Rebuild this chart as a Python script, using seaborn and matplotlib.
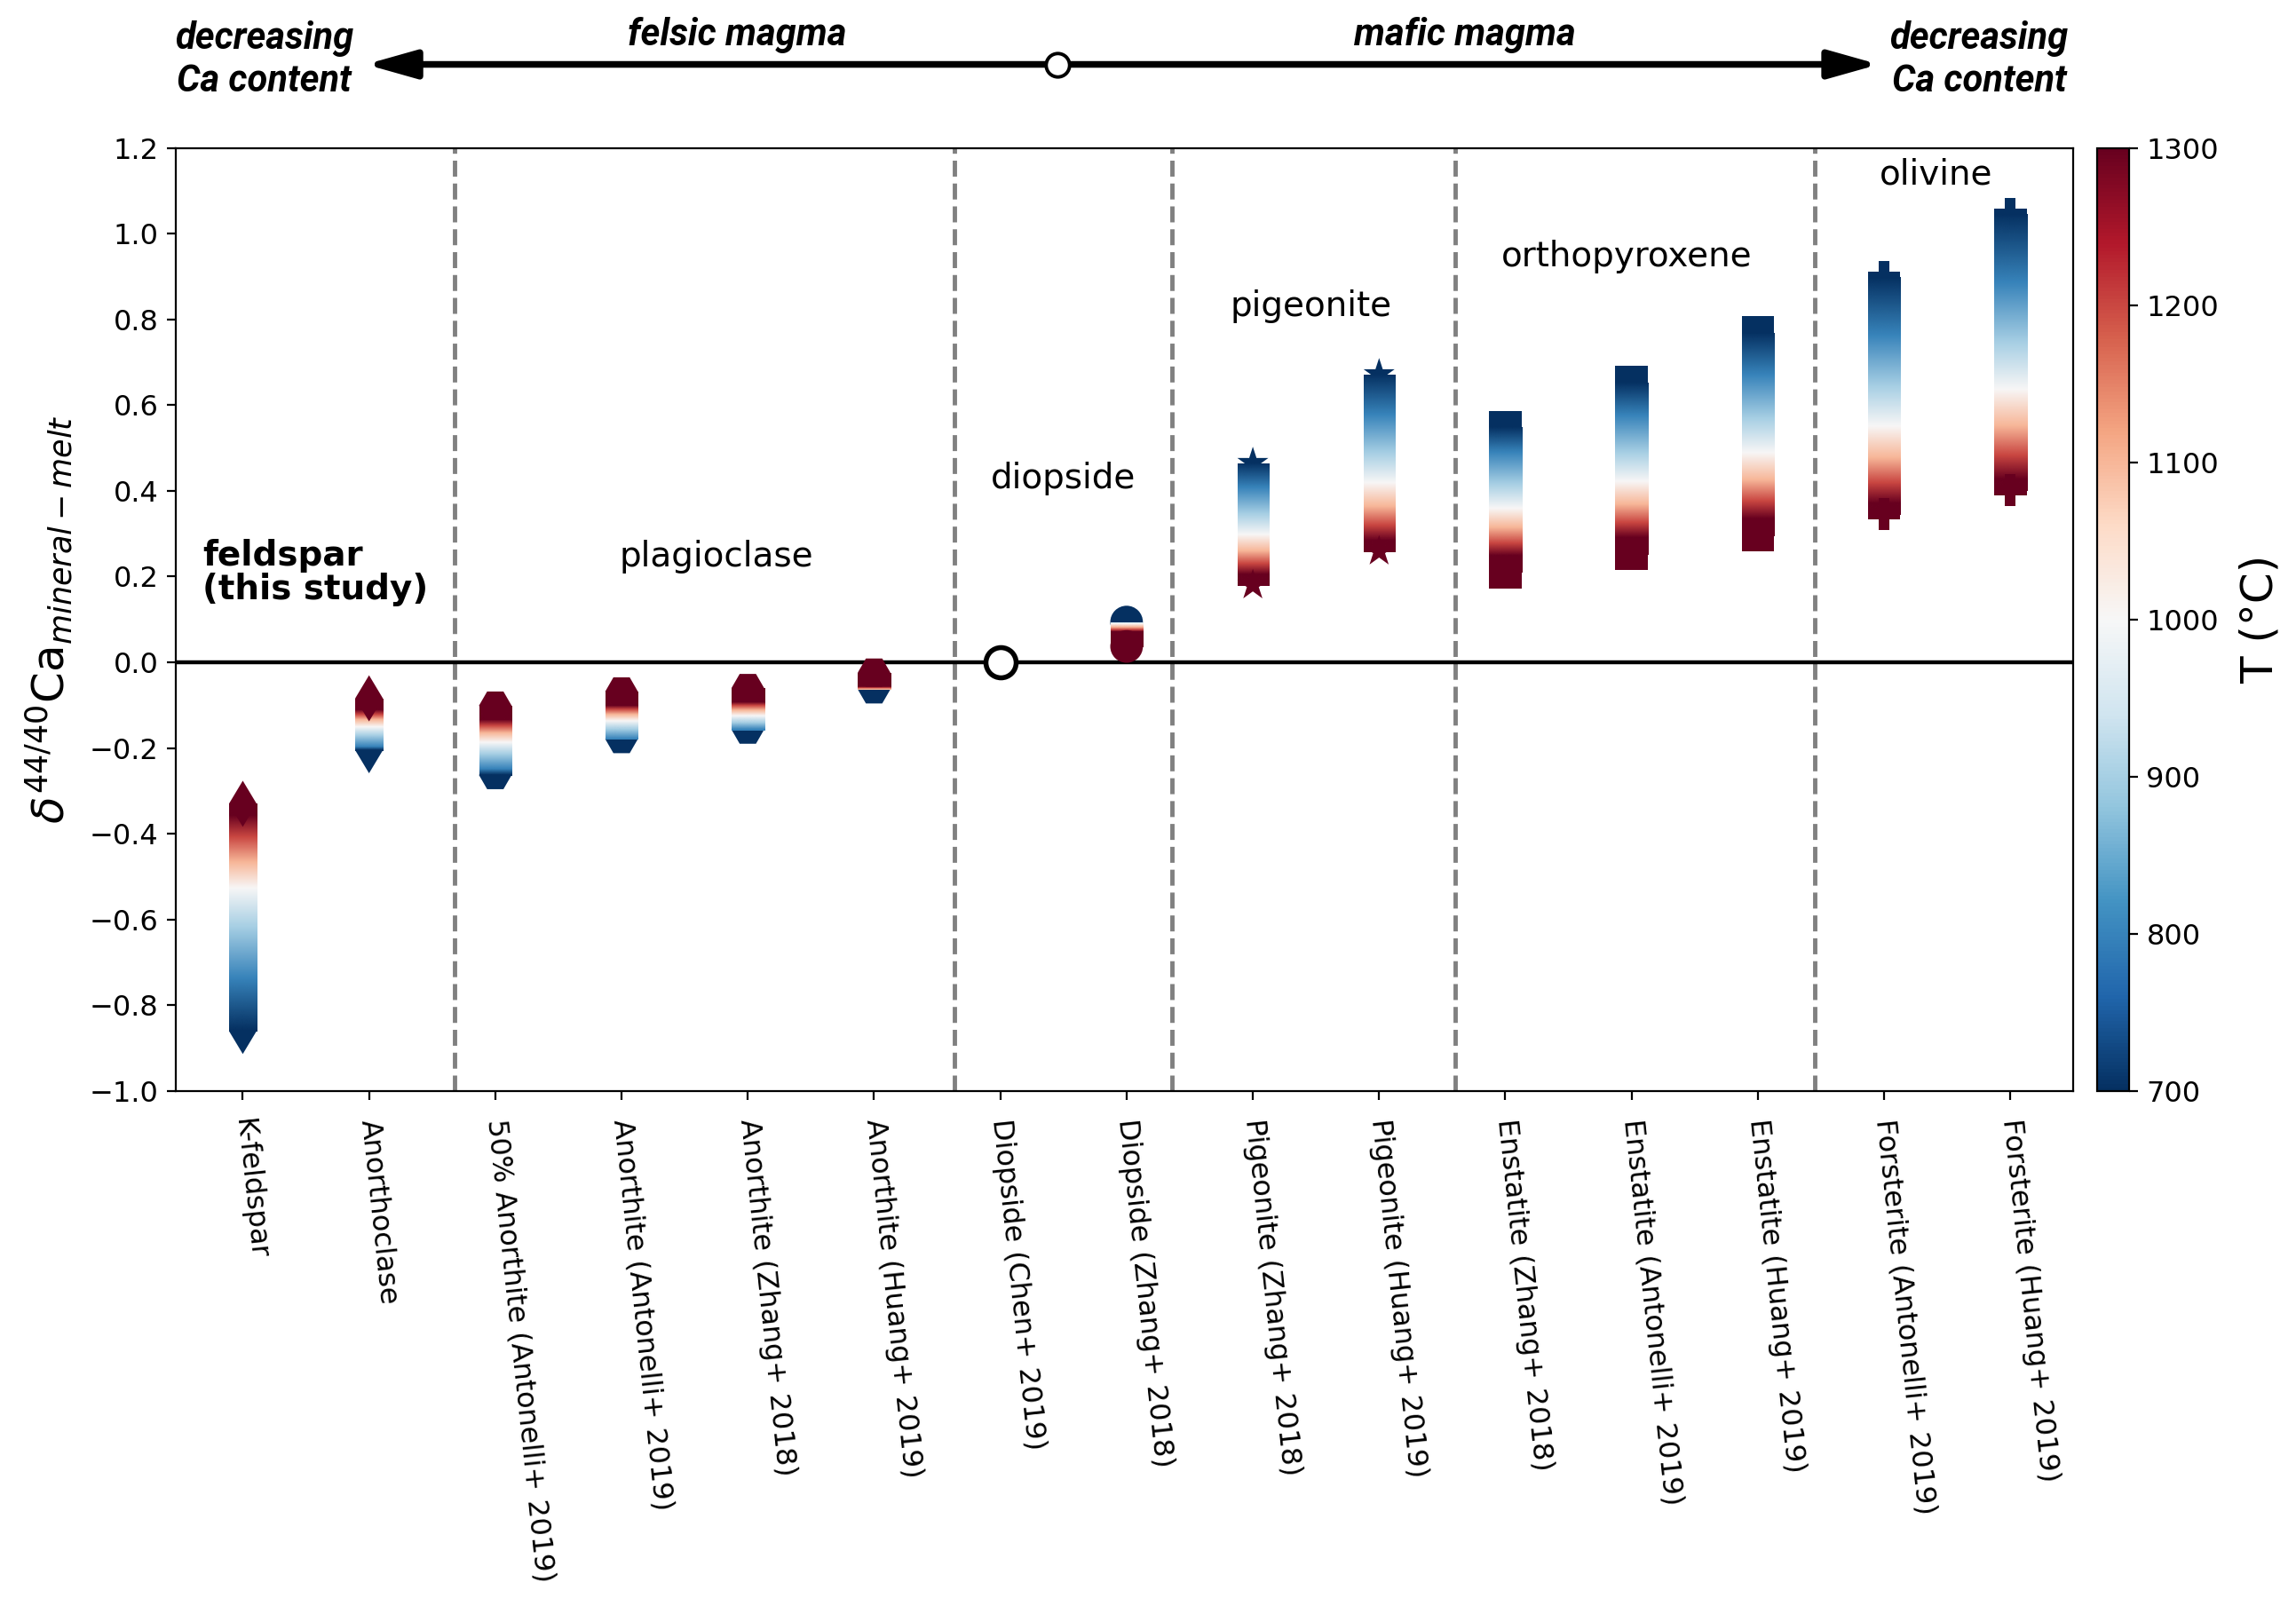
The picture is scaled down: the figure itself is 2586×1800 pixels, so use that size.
import numpy as np
import pandas as pd
import matplotlib
matplotlib.use('Agg')
import matplotlib.pyplot as plt
import seaborn as sns
from matplotlib.colors import Normalize
from matplotlib.cm import ScalarMappable
from matplotlib.image import NonUniformImage
from matplotlib.lines import Line2D
from matplotlib.patches import FancyArrowPatch, Rectangle

# --- data: d44/40Ca(mineral - melt) per temperature (degC) ---
TEMPS = [700, 800, 900, 1000, 1100, 1200, 1300]

K_FELDSPAR = [-0.86, -0.71, -0.59, -0.50, -0.44, -0.38, -0.33]
ANORTHOCLASE = [-0.205, -0.170, -0.144, -0.124, -0.107, -0.095, -0.084]
AN50_ANTONELLI = [-0.263, -0.216, -0.181, -0.154, -0.132, -0.115, -0.101]
AN_ANTONELLI = [-0.179, -0.147, -0.123, -0.104, -0.089, -0.077, -0.068]
AN_ZHANG = [-0.157, -0.129, -0.108, -0.092, -0.079, -0.068, -0.060]
AN_HUANG = [-0.063, -0.052, -0.043, -0.037, -0.032, -0.027, -0.024]
DI_CHEN = 0.0  # single reference point
DI_ZHANG = [0.094, 0.078, 0.065, 0.056, 0.048, 0.042, 0.037]
PIG_ZHANG = [0.465, 0.383, 0.321, 0.273, 0.235, 0.205, 0.180]
PIG_HUANG = [0.672, 0.553, 0.463, 0.394, 0.339, 0.295, 0.259]
EN_ZHANG = [0.549, 0.452, 0.378, 0.321, 0.277, 0.240, 0.211]
EN_ANTONELLI = [0.653, 0.538, 0.451, 0.384, 0.331, 0.288, 0.253]
EN_HUANG = [0.769, 0.633, 0.531, 0.451, 0.388, 0.338, 0.297]
FO_ANTONELLI = [0.898, 0.739, 0.619, 0.526, 0.453, 0.394, 0.346]
FO_HUANG = [1.046, 0.861, 0.721, 0.612, 0.527, 0.458, 0.402]

LABELS = ['K-feldspar', 'Anorthoclase', '50% Anorthite (Antonelli+ 2019)',
          'Anorthite (Antonelli+ 2019)', 'Anorthite (Zhang+ 2018)', 'Anorthite (Huang+ 2019)',
          'Diopside (Chen+ 2019)', 'Diopside (Zhang+ 2018)',
          'Pigeonite (Zhang+ 2018)', 'Pigeonite (Huang+ 2019)',
          'Enstatite (Zhang+ 2018)', 'Enstatite (Antonelli+ 2019)', 'Enstatite (Huang+ 2019)',
          'Forsterite (Antonelli+ 2019)', 'Forsterite (Huang+ 2019)']
SERIES = [K_FELDSPAR, ANORTHOCLASE, AN50_ANTONELLI, AN_ANTONELLI, AN_ZHANG, AN_HUANG,
          None, DI_ZHANG, PIG_ZHANG, PIG_HUANG, EN_ZHANG, EN_ANTONELLI, EN_HUANG,
          FO_ANTONELLI, FO_HUANG]

GROUPS = ['feldspar\n(this study)', 'plagioclase', 'diopside', 'pigeonite',
          'orthopyroxene', 'olivine']
Y_TICKS = [-1.0, -0.8, -0.6, -0.4, -0.2, 0.0, 0.2, 0.4, 0.6, 0.8, 1.0, 1.2]
T_TICKS = [700, 800, 900, 1000, 1100, 1200, 1300]

# --- style ---
MARKERS = ['d', 'd', 'H', 'H', 'H', 'H', 'o', 'o', '*', '*', 's', 's', 's', 'P', 'P']
HALF_W = {'d': 0.11, 'H': 0.129, 'o': 0.129, '*': 0.1225, 's': 0.129, 'P': 0.129}
STACK = {'d': 0.027, 'H': 0.033, 'o': 0.034, '*': 0.025, 's': 0.038, 'P': 0.025}
GROUP_POS = [(-0.32, 0.21), (3.75, 0.247), (6.5, 0.428), (8.46, 0.831), (10.96, 0.947), (13.41, 1.138)]
DIVIDERS = [1.68, 5.64, 7.36, 9.6, 12.45]
MS = 175
CMAP = 'RdBu_r'
NORM = Normalize(700, 1300)
HEADER_FONT = ['Roboto', 'Liberation Sans', 'DejaVu Sans']

rows = []
for i, vals in enumerate(SERIES):
    if vals is None:
        continue
    for t, v in zip(TEMPS, vals):
        rows.append({'pos': i, 'mineral': LABELS[i], 'T': t, 'delta': v})
df = pd.DataFrame(rows)

fig = plt.figure(figsize=(12.93, 9.0), dpi=200)
ax = fig.add_axes([0.0766, 0.3173, 0.8265, 0.5901])
cax = fig.add_axes([0.9134, 0.3173, 0.0139, 0.5901])

for x in DIVIDERS:
    ax.axvline(x, color='gray', ls='--', lw=1.75, zorder=1)
ax.axhline(0, color='k', lw=1.6, zorder=2)


def column_nodes(d, m):
    """colour nodes of the column, shifted the way overlapping markers hide each other"""
    direction = np.sign(d[0] - d[-1])
    lo, hi = sorted([d[0], d[-1]])
    p = np.clip(d + STACK[m] * direction, lo, hi)
    ys = np.concatenate([[d[-1]], p[::-1]])
    ts = np.concatenate([[TEMPS[-1]], np.array(TEMPS[::-1], dtype=float)])
    # keep the hottest (last drawn) colour where nodes coincide
    uy, first = np.unique(np.round(ys, 6), return_index=True)
    return uy, ts[first], lo, hi


for i, vals in enumerate(SERIES):
    if vals is None:
        continue
    m = MARKERS[i]
    sub = df[df['pos'] == i]
    cold = sub[sub['T'] == TEMPS[0]]
    hot = sub[sub['T'] == TEMPS[-1]]
    sns.scatterplot(data=cold, x='pos', y='delta', hue='T', palette=CMAP, hue_norm=(700, 1300),
                    marker=m, s=MS, linewidth=0, edgecolor='none', legend=False, ax=ax, zorder=3)
    ys, ts, lo, hi = column_nodes(np.array(vals, dtype=float), m)
    w = HALF_W[m]
    im = NonUniformImage(ax, interpolation='bilinear', cmap=CMAP, norm=NORM, zorder=3.5)
    im.set_data(np.array([i - w, i + w]), ys, np.column_stack([ts, ts]))
    ax.add_image(im)
    im.set_clip_path(Rectangle((i - w, lo), 2 * w, hi - lo, transform=ax.transData))
    sns.scatterplot(data=hot, x='pos', y='delta', hue='T', palette=CMAP, hue_norm=(700, 1300),
                    marker=m, s=MS, linewidth=0, edgecolor='none', legend=False, ax=ax, zorder=4)

# Diopside (Chen+ 2019) reference point
ax.scatter([LABELS.index('Diopside (Chen+ 2019)')], [DI_CHEN], marker='o', s=150,
           facecolor='white', edgecolor='k', linewidth=2.0, zorder=5)

for txt, (gx, gy) in zip(GROUPS, GROUP_POS):
    bold = txt.startswith('feldspar')
    ax.text(gx, gy, txt, fontsize=14, fontweight='bold' if bold else 'normal',
            ha='left' if bold else 'center', va='center', linespacing=1.0, zorder=6)

ax.set_xlim(-0.53, 14.5)
ax.set_ylim(-1.0, 1.2)
ax.set_yticks(Y_TICKS)
ax.set_xticks(range(len(LABELS)))
ax.set_xticklabels(LABELS, rotation=-84, ha='left', va='center', rotation_mode='anchor', fontsize=11.5)
ax.tick_params(axis='x', pad=8)
ax.tick_params(axis='y', labelsize=11.5)
ax.set_xlabel('')
ax.set_ylabel(r'$\delta^{44/40}\mathrm{Ca}_{mineral-melt}$', fontsize=18, labelpad=6)

cb = fig.colorbar(ScalarMappable(norm=NORM, cmap=CMAP), cax=cax)
cb.set_ticks(T_TICKS)
cb.ax.tick_params(labelsize=11.5)
cb.set_label('T (°C)', fontsize=18, labelpad=8)

# header: magma type arrow
y_arr = 0.9597
for x_end in (0.1593, 0.8183):
    fig.add_artist(FancyArrowPatch((0.4605, y_arr), (x_end, y_arr), transform=fig.transFigure,
                                   arrowstyle='-|>,head_length=0.85,head_width=0.24',
                                   mutation_scale=20, lw=2.7, color='k', shrinkA=0, shrinkB=0))
fig.add_artist(Line2D([0.4605], [y_arr], transform=fig.transFigure, marker='o', ms=9.5,
                      mfc='white', mec='k', mew=1.4, zorder=10))

hdr = dict(fontsize=15, fontweight='bold', fontstyle='italic', family=HEADER_FONT,
           ha='center', va='center', linespacing=1.2)
fig.text(0.321, 0.978, 'felsic magma', **hdr)
fig.text(0.638, 0.978, 'mafic magma', **hdr)
fig.text(0.115, 0.9624, 'decreasing\nCa content', **hdr)
fig.text(0.862, 0.9624, 'decreasing\nCa content', **hdr)

fig.savefig('out.png', dpi=200)
